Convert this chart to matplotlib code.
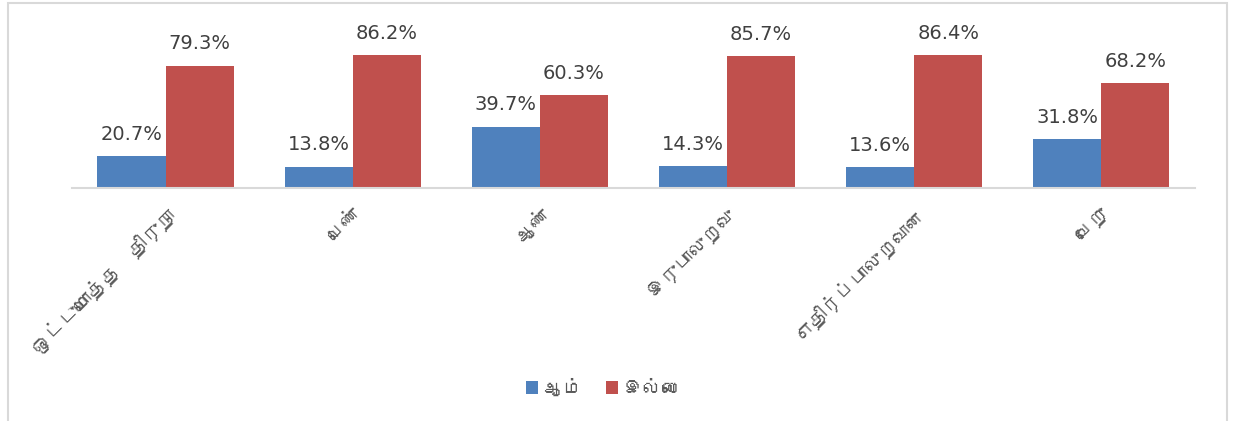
import matplotlib
matplotlib.use("Agg")
import matplotlib.pyplot as plt
from matplotlib import font_manager
from matplotlib.ft2font import FT2Font
from matplotlib.patches import Rectangle
import numpy as np

categories = ["ஒட்டுமொத்த  திருநா", "பெண்", "ஆண்", "இருபாலுறவு", "எதிர்ப்பாலுறவான", "வேறு"]
yes_values = [20.7, 13.8, 39.7, 14.3, 13.6, 31.8]
no_values = [79.3, 86.2, 60.3, 85.7, 86.4, 68.2]
series_names = ["ஆம்", "இல்லை"]


def find_tamil_family():
    for f in font_manager.fontManager.ttflist:
        try:
            if 0x0B95 in FT2Font(f.fname).get_charmap():
                return f.name
        except Exception:
            continue
    return None


tamil = find_tamil_family()
families = ([tamil] if tamil else []) + ["DejaVu Sans"]
plt.rcParams["font.family"] = families

fig = plt.figure(figsize=(12.33, 4.21), dpi=100)
ax = fig.add_axes([0.0584, 0.5534, 0.9106, 0.3656])

x = np.arange(len(categories))
w = 0.364
b1 = ax.bar(x - w / 2, yes_values, w, color="#4F81BD", label=series_names[0])
b2 = ax.bar(x + w / 2, no_values, w, color="#C0504D", label=series_names[1])

for bars in (b1, b2):
    for rect in bars:
        ax.annotate(
            f"{rect.get_height():.1f}%",
            (rect.get_x() + rect.get_width() / 2, rect.get_height()),
            xytext=(0, 9), textcoords="offset points",
            ha="center", va="bottom", fontsize=14, color="#404040",
            family="DejaVu Sans",
        )

ax.set_xlim(-0.5, len(categories) - 0.5)
ax.set_ylim(0, 100)
ax.set_yticks([])
ax.set_xticks(x)
ax.set_xticklabels(categories, rotation=45, ha="right", rotation_mode="anchor",
                   fontsize=14, color="#595959")
ax.tick_params(axis="x", length=0, pad=12)
for s in ("top", "right", "left"):
    ax.spines[s].set_visible(False)
ax.spines["bottom"].set_color("#d9d9d9")
ax.spines["bottom"].set_linewidth(1.5)

fig.legend(loc="center", bbox_to_anchor=(0.49, 0.08), ncol=2, frameon=False,
           fontsize=14, handlelength=0.6, handleheight=0.6, columnspacing=1.2,
           handletextpad=0.3, labelcolor="#595959")

fig.patches.append(Rectangle((8 / 1233, -0.02), 1219 / 1233, 1.0129,
                             transform=fig.transFigure, fill=False,
                             edgecolor="#d9d9d9", linewidth=1.5))

fig.savefig("out.png", dpi=100)
